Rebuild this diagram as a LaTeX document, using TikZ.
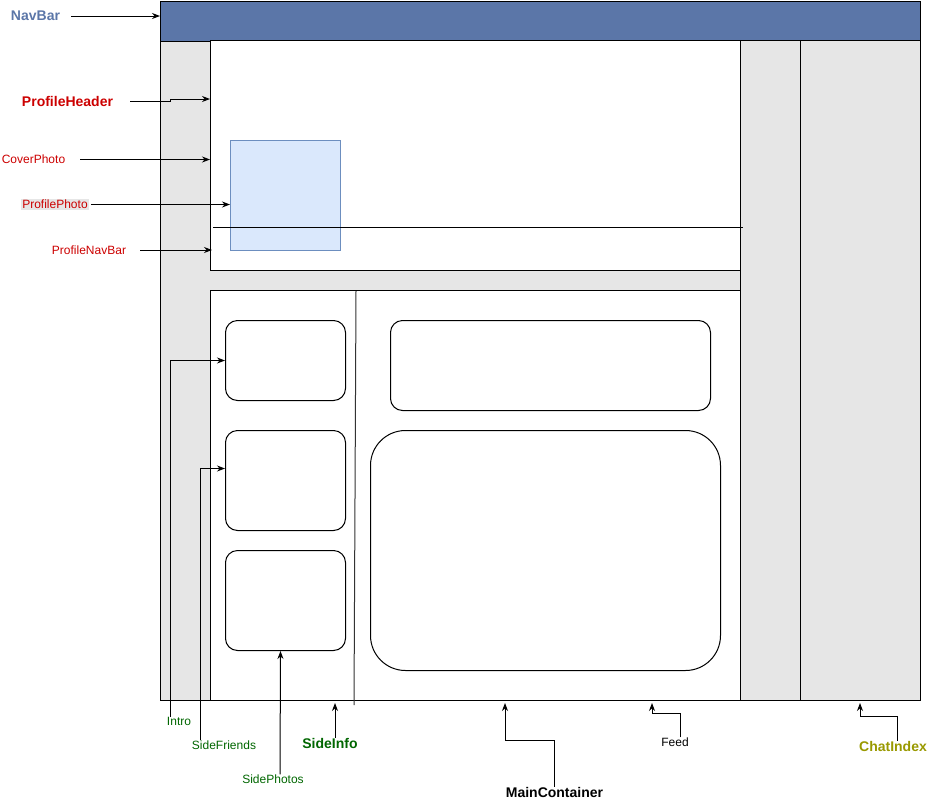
\documentclass[tikz,border=0pt]{standalone}
\usepackage{fontspec}
\setmainfont{Liberation Sans}
\usetikzlibrary{arrows.meta}
\definecolor{navblue}{HTML}{5B76A8}
\definecolor{panelgray}{HTML}{E6E6E6}
\definecolor{photofill}{HTML}{DAE8FC}
\definecolor{photoline}{HTML}{6C8EBF}
\definecolor{lblred}{HTML}{CC0000}
\definecolor{lblgreen}{HTML}{006600}
\definecolor{lblolive}{HTML}{999900}
\tikzset{
  panel/.style={draw=black, line width=1pt, inner sep=0pt, anchor=north west},
  rbox/.style={draw=black, line width=1pt, inner sep=0pt, anchor=north west, rounded corners=12pt, fill=white},
  lbl/.style={inner sep=0pt, font=\fontsize{12}{14}\selectfont},
  blbl/.style={inner sep=0pt, font=\fontsize{14}{16}\selectfont\bfseries},
  arr/.style={draw=black, line width=1pt, -{Stealth[length=8pt,width=6pt]}},
}
\begin{document}
\begin{tikzpicture}[x=1pt,y=-1pt]
\useasboundingbox (0,0) rectangle (938,801);
% frame and panels
\node[panel, fill=panelgray, minimum width=760pt, minimum height=660pt] (frame) at (160,40) {};
\node[panel, fill=navblue, minimum width=760pt, minimum height=40pt] (navbar) at (160,0.5) {};
\node[panel, fill=panelgray, minimum width=60pt, minimum height=660pt] (gapcol) at (740,40) {};
\node[panel, fill=panelgray, minimum width=120pt, minimum height=660pt] (chatcol) at (800,40) {};
\node[panel, fill=white, minimum width=530pt, minimum height=230pt] (header) at (210,40) {};
\node[panel, fill=white, minimum width=530pt, minimum height=410pt] (lower) at (210,290) {};
\node[panel, draw=photoline, fill=photofill, minimum width=110pt, minimum height=110pt] (photo) at (230,140) {};
\coordinate (navL) at (213,227);
\coordinate (navR) at (743,227);
\draw[line width=1pt] (navL) -- (navR);
\coordinate (divT) at (356,291);
\coordinate (divB) at (354,705);
\draw[line width=1pt, draw=black!80] (divT) -- (divB);
% boxes
\node[rbox, minimum width=120pt, minimum height=80pt] (introbox) at (225,320) {};
\node[rbox, minimum width=120pt, minimum height=100pt] (friendsbox) at (225,430) {};
\node[rbox, minimum width=120pt, minimum height=100pt] (photosbox) at (225,550) {};
\node[rbox, minimum width=320pt, minimum height=90pt] (postbox) at (390,320) {};
\node[rbox, rounded corners=35pt, minimum width=350pt, minimum height=240pt] (feedbox) at (370,430) {};
% labels
\node[blbl, text=navblue] (lnav) at (35.5,16) {NavBar};
\node[blbl, text=lblred] (lph) at (67.5,101) {ProfileHeader};
\node[lbl, text=lblred] (lcp) at (33.5,159.5) {CoverPhoto};
\node[lbl, text=lblred, fill=panelgray, inner sep=1pt] (lpp) at (55,204.5) {ProfilePhoto};
\node[lbl, text=lblred] (lpnb) at (89,250) {ProfileNavBar};
\node[lbl, text=lblgreen] (lintro) at (179,721) {Intro};
\node[lbl, text=lblgreen] (lsf) at (224,745) {SideFriends};
\node[lbl, text=lblgreen] (lsp) at (273,779) {SidePhotos};
\node[blbl, text=lblgreen] (lsi) at (330,743) {SideInfo};
\node[blbl, text=black] (lmc) at (554.5,792) {MainContainer};
\node[lbl, text=black] (lfeed) at (675,742) {Feed};
\node[blbl, text=lblolive] (lci) at (893,746) {ChatIndex};
% connectors
\draw[arr] ([xshift=11pt]lnav.east) -- (lnav.east -| navbar.west);
\coordinate (phK1) at (170,101);
\coordinate (phK2) at (170,99);
\coordinate (phT) at (210,99);
\draw[arr] ([xshift=17pt]lph.east) -- (phK1) -- (phK2) -- (phT);
\draw[arr] ([xshift=15pt]lcp.east) -- (lcp.east -| header.west);
\draw[arr] ([xshift=2pt]lpp.east) -- (lpp.east -| photo.west);
\draw[arr] ([xshift=14pt]lpnb.east) -- ([xshift=2pt]lpnb.east -| header.west);
\draw[arr] ([xshift=-9pt]lintro.north) |- (introbox.west);
\draw[arr] ([xshift=-24pt]lsf.north) |- ([yshift=12pt]friendsbox.west);
\draw[arr] ([xshift=7pt]lsp.north) -- ([xshift=-5pt]photosbox.south);
\coordinate (siT) at (335,703);
\draw[arr] (lsi.north -| siT) -- (siT);
\coordinate (mcK) at (554.5,740);
\coordinate (mcT) at (505,703);
\draw[arr] (lmc.north) -- (mcK) -| (mcT);
\coordinate (fdK) at (680,713);
\coordinate (fdT) at (652,703);
\draw[arr] (lfeed.north -| fdK) -- (fdK) -| (fdT);
\coordinate (ciK) at (897,716);
\coordinate (ciT) at (860,703);
\draw[arr] (lci.north -| ciK) -- (ciK) -| (ciT);
\end{tikzpicture}
\end{document}
